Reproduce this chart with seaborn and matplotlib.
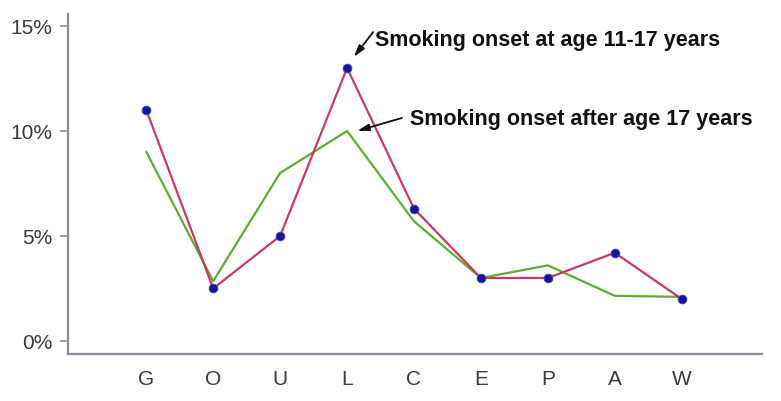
import matplotlib.pyplot as plt
import matplotlib
import seaborn as sns
import pandas as pd
import numpy as np
from matplotlib.ticker import FixedLocator, FuncFormatter

categorias = ['G', 'O', 'U', 'L', 'C', 'E', 'P', 'A', 'W']
onset_11_17 = [11.0, 2.5, 5.0, 13.0, 6.3, 3.0, 3.0, 4.2, 2.0]
onset_after_17 = [9.0, 2.85, 8.0, 10.0, 5.7, 3.0, 3.6, 2.15, 2.1]
yticks = [0, 5, 10, 15]

sns.set_style('white')
matplotlib.rcParams['font.family'] = ['Liberation Sans', 'DejaVu Sans']

df = pd.DataFrame({
    'pos': np.arange(len(categorias)),
    'cat': categorias,
    'a': onset_11_17,
    'b': onset_after_17,
})

fig = plt.figure(figsize=(7.81, 4.02), dpi=100)
ax = fig.add_axes([68 / 781, 1 - 355 / 402, (762 - 68) / 781, (355 - 15) / 402])

sns.lineplot(data=df, x='pos', y='b', color='#5cae2e', linewidth=1.6, ax=ax)
sns.lineplot(data=df, x='pos', y='a', color='#c83a62', linewidth=1.6, ax=ax)
sns.scatterplot(data=df, x='pos', y='a', color='#16168e', s=40, edgecolor='#3a4ad0',
                linewidth=0.6, zorder=5, ax=ax)

ax.set_xlim(-1.17, 9.2)
ax.set_ylim(-0.62, 15.57)
ax.set_xticks(df['pos'])
ax.set_xticklabels(categorias, fontsize=15, color='#3a3a3a')
ax.xaxis.set_minor_locator(FixedLocator([-1, 1, 3, 5, 7, 9]))
ax.tick_params(axis='x', which='major', length=0, pad=10.5)
ax.tick_params(axis='x', which='minor', length=2.5, direction='in', color='#bbbbbb', width=1)
ax.set_yticks(yticks)
ax.yaxis.set_major_formatter(FuncFormatter(lambda v, p: f'{v:.0f}%'))
ax.tick_params(axis='y', length=6, width=1.2, color='#8a8f99', pad=5, labelsize=15,
               labelcolor='#3a3a3a', left=True)
ax.set_xlabel('')
ax.set_ylabel('')

for s in ['top', 'right']:
    ax.spines[s].set_visible(False)
for s in ['left', 'bottom']:
    ax.spines[s].set_color('#8a8f99')
    ax.spines[s].set_linewidth(1.6)

arrow = dict(arrowstyle='-|>,head_length=0.7,head_width=0.2', color='#111111', lw=1.3,
             shrinkA=0, shrinkB=0)
ax.text(3.42, 14.1, 'Smoking onset at age 11-17 years', fontsize=15.5, fontweight='bold',
        color='#111111', va='baseline', ha='left')
ax.annotate('', xy=(3.10, 13.52), xytext=(3.39, 14.71), arrowprops=arrow)
ax.text(3.94, 10.33, 'Smoking onset after age 17 years', fontsize=15.5, fontweight='bold',
        color='#111111', va='baseline', ha='left')
ax.annotate('', xy=(3.15, 10.0), xytext=(3.82, 10.62), arrowprops=arrow)

plt.savefig('out.png', dpi=100)
